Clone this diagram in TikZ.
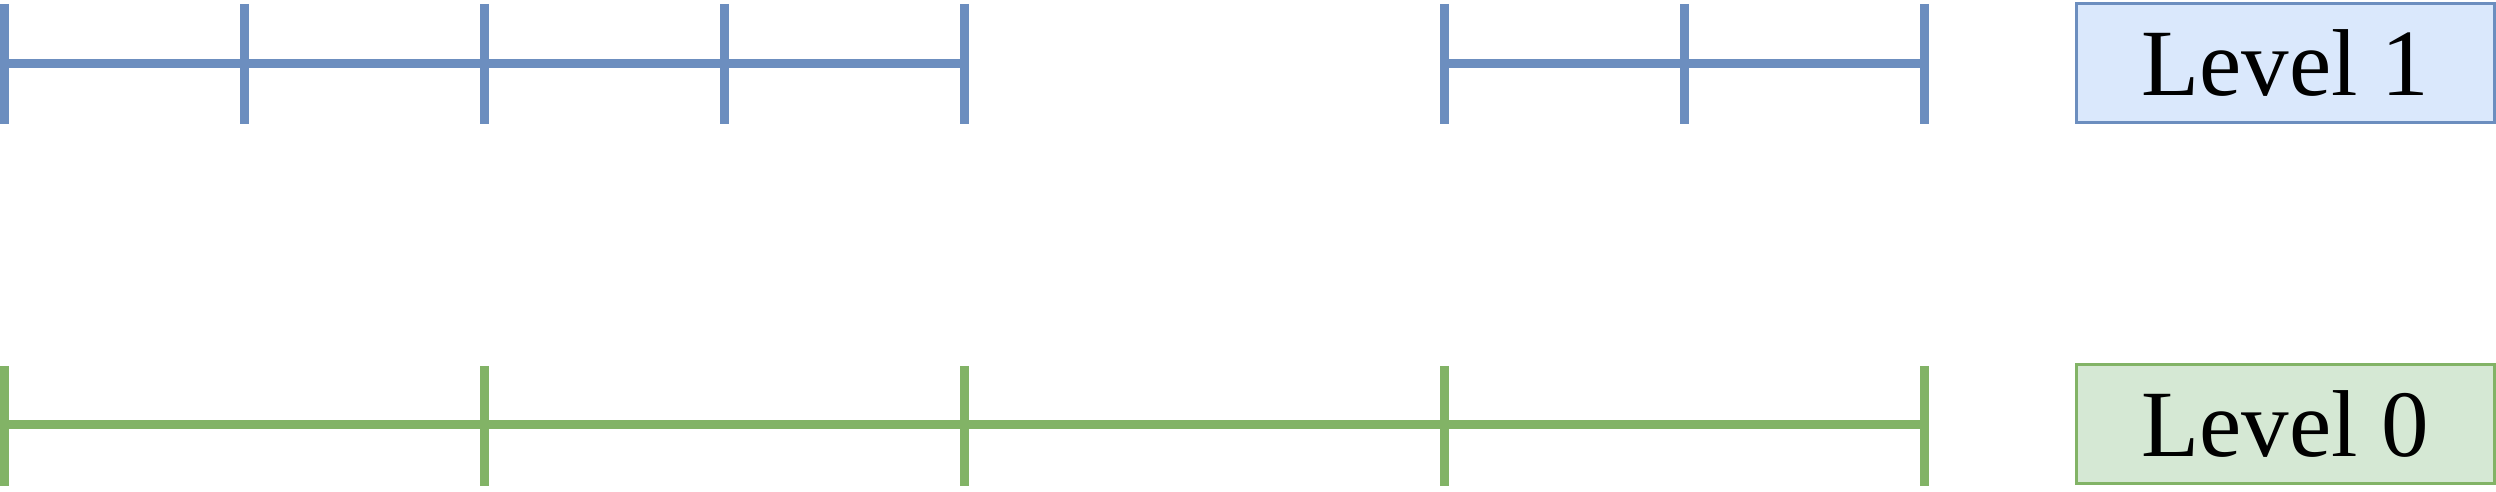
\documentclass[tikz,border=0pt]{standalone}
\usepackage{fontspec}
\setmainfont{Liberation Serif}
\definecolor{blueline}{HTML}{6C8EBF}
\definecolor{bluefill}{HTML}{DAE8FC}
\definecolor{greenline}{HTML}{82B366}
\definecolor{greenfill}{HTML}{D5E8D4}
\begin{document}
\begin{tikzpicture}[x=1pt,y=1pt,
  tick/.style={line width=9pt},
  axis/.style={line width=9pt},
  lvl/.style={draw,line width=3pt,minimum width=418pt,minimum height=119pt,inner sep=0pt,font=\fontsize{95}{95}\selectfont,anchor=north west}]
\useasboundingbox (0,0) rectangle (2496,492);
% top row (Level 1)
\foreach \x/\n in {4.5/a,244.5/b,484.5/c,724.5/d,964.5/e,1444.5/f,1684.5/g,1924.5/h}{
  \coordinate (t\n) at (\x,428);
  \draw[tick,blueline] (\x,488) -- (\x,368);
}
\draw[axis,blueline] (ta) -- (te);
\draw[axis,blueline] (tf) -- (th);
% bottom row (Level 0)
\foreach \x/\n in {4.5/a,484.5/b,964.5/c,1444.5/d,1924.5/e}{
  \coordinate (b\n) at (\x,67);
  \draw[tick,greenline] (\x,126) -- (\x,6);
}
\draw[axis,greenline] (ba) -- (be);
% labels
\node[lvl,draw=blueline,fill=bluefill] (l1) at (2074.5,490) {Level 1};
\node[lvl,draw=greenline,fill=greenfill] (l0) at (2074.5,129) {Level 0};
\end{tikzpicture}
\end{document}
